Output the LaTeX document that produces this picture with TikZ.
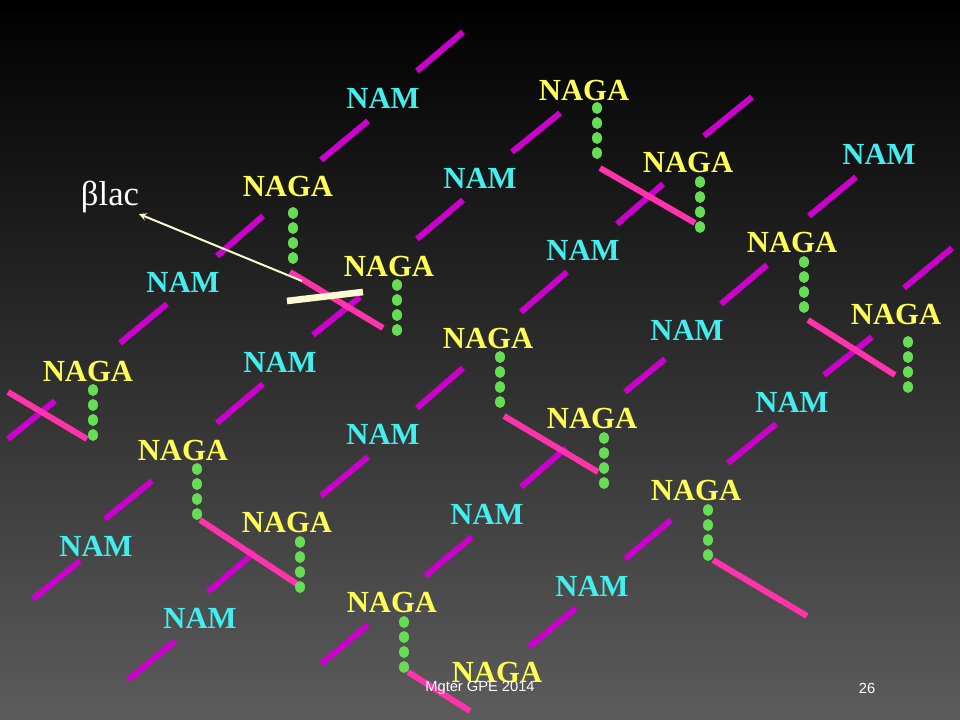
\documentclass[tikz,border=0pt]{standalone}
\usepackage{fontspec}
\setmainfont{Liberation Serif}
\newfontfamily\footfont{Liberation Sans}
\definecolor{cmag}{RGB}{204,0,204}
\definecolor{cpnk}{RGB}{255,51,170}
\definecolor{cgrn}{RGB}{102,221,85}
\definecolor{ccyan}{RGB}{68,238,238}
\definecolor{cyel}{RGB}{255,255,85}
\definecolor{ccream}{RGB}{255,250,210}
\definecolor{bgbot}{RGB}{92,92,92}
\definecolor{bgmid}{RGB}{45,45,45}
\begin{document}
\begin{tikzpicture}[x=0.75pt,y=-0.75pt,
  mag/.style={draw=cmag,line width=4.5pt},
  pnk/.style={draw=cpnk,line width=4.5pt},
  dot/.style={fill=cgrn},
  nam/.style={text=ccyan,font=\bfseries\fontsize{23}{25}\selectfont},
  naga/.style={text=cyel,font=\bfseries\fontsize{23}{25}\selectfont}]
\shade[top color=black,bottom color=bgbot,middle color=bgmid] (0,0) rectangle (960,720);
\fill[black] (0,0) rectangle (960,10);
\useasboundingbox (0,0) rectangle (960,720);
% magenta segments
\foreach \a/\b/\c/\d in {463/32/417/71, 368/121/321/160, 263/216/217/256, 463/200/417/239, 167/304/120/343, 360/297/313/335,
 560/113/512/152, 752/97/704/136, 663/184/617/224, 856/177/809/216, 567/272/521/312, 767/265/721/304, 952/248/904/288, 872/337/824/375,
 463/368/417/408, 263/384/217/423, 55/401/8/439, 152/481/105/519, 368/457/321/496, 255/552/208/592, 80/561/33/599, 472/537/425/576,
 175/641/128/680, 368/625/321/664, 665/359/625/392, 566/448/521/487, 776/424/728/463, 671/520/625/559, 576/608/529/647}
  \draw[mag] (\a,\b) -- (\c,\d);
% pink segments
\foreach \a/\b/\c/\d in {290/272/383/328, 600/168/695/223, 808/320/895/375, 8/392/87/439, 200/520/297/584, 408/672/470/711, 504/416/598/472, 713/560/807/616}
  \draw[pnk] (\a,\b) -- (\c,\d);
% green dots
\foreach \x/\y in {293/213, 397/285, 597/108, 700/182, 804/262, 908/342, 93/390, 197/469, 300/542, 404/622, 500/357, 604/438, 708/510}
  \foreach \k in {0,1,2,3} \fill[dot] (\x,\y+15*\k) ellipse (5 and 6);
% white bar
\draw[line width=5pt,ccream] (287,301) -- (363,292);
% labels
\node[nam] (m1) at (383,98) {NAM};
\node[naga] (g1) at (288,186) {NAGA};
\node[nam] (m2) at (183,282) {NAM};
\node[naga] (g2) at (389,266) {NAGA};
\node[naga] (g3) at (584,90) {NAGA};
\node[nam] (m3) at (480,178) {NAM};
\node[naga] (g4) at (688,162) {NAGA};
\node[nam] (m4) at (879,154) {NAM};
\node[nam] (m5) at (583,250) {NAM};
\node[naga] (g5) at (792,242) {NAGA};
\node[naga] (g6) at (896,314) {NAGA};
\node[nam] (m6) at (687,330) {NAM};
\node[naga] (g7) at (488,338) {NAGA};
\node[naga] (g8) at (88,371) {NAGA};
\node[nam] (m7) at (280,362) {NAM};
\node[naga] (g9) at (183,450) {NAGA};
\node[nam] (m8) at (383,434) {NAM};
\node[naga] (g10) at (287,522) {NAGA};
\node[nam] (m9) at (96,546) {NAM};
\node[nam] (m10) at (200,618) {NAM};
\node[naga] (g11) at (392,602) {NAGA};
\node[naga] (g12) at (497,672) {NAGA};
\node[naga] (g13) at (592,418) {NAGA};
\node[nam] (m11) at (792,402) {NAM};
\node[nam] (m12) at (487,514) {NAM};
\node[naga] (g14) at (696,490) {NAGA};
\node[nam] (m13) at (592,586) {NAM};
\node[text=white,font=\fontsize{26}{28}\selectfont] (blac) at (110,197) {βlac};
\coordinate (bar) at (302,281);
\draw[ccream,line width=1.5pt,-stealth] (bar) -- (139,214);
\node[text=white,font=\footfont\fontsize{11}{12}\selectfont] (ft) at (480,688) {Mgter GPE 2014};
\node[text=white,font=\footfont\fontsize{11}{12}\selectfont] (pg) at (867,688) {26};
\end{tikzpicture}
\end{document}
